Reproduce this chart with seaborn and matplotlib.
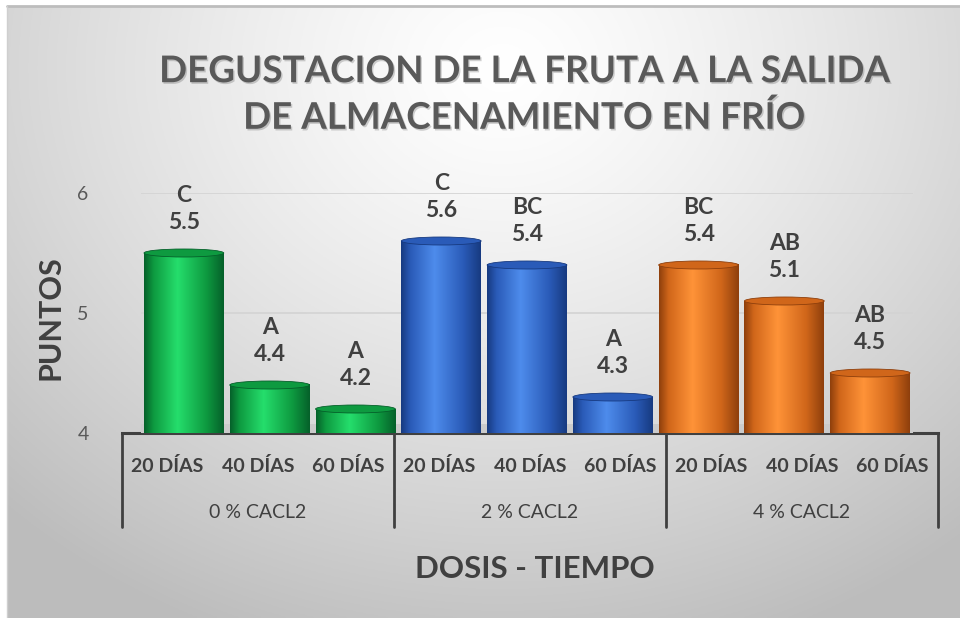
import numpy as np
import pandas as pd
import matplotlib
matplotlib.use("Agg")
import matplotlib.pyplot as plt
import seaborn as sns
from matplotlib.patches import Ellipse
from matplotlib.colors import LinearSegmentedColormap, to_hex
from matplotlib.transforms import blended_transform_factory
import matplotlib.patheffects as pe

# ---------------- data ----------------
dosis = ["0 % CACL2", "2 % CACL2", "4 % CACL2"]
tiempos = ["20 DÍAS", "40 DÍAS", "60 DÍAS"]
valores = [5.5, 4.4, 4.2, 5.6, 5.4, 4.3, 5.4, 5.1, 4.5]
letras = ["C", "A", "A", "C", "BC", "A", "BC", "AB", "AB"]
colores_dosis = ["#0FA044", "#2D5FBF", "#E0701C"]
y_ticks = [4, 5, 6]
titulo = "DEGUSTACION DE LA FRUTA A LA SALIDA\nDE ALMACENAMIENTO EN FRÍO"
eje_y = "PUNTOS"
eje_x = "DOSIS - TIEMPO"

rows = []
for i, d in enumerate(dosis):
    for j, t in enumerate(tiempos):
        k = i * len(tiempos) + j
        rows.append({"dosis": d, "tiempo": t, "cat": f"{d} | {t}",
                     "valor": valores[k], "letra": letras[k]})
df = pd.DataFrame(rows)

# cylinder shading (dark edge, mid, highlight) per dose colour
shading = {
    "#0FA044": ("#05602A", "#0E9A40", "#25DE6C"),
    "#2D5FBF": ("#173A80", "#2A5BB8", "#4E8CEC"),
    "#E0701C": ("#8E3F0C", "#D0661A", "#FF9338"),
}

FONT = "Lato"
TXT = "#404040"

sns.set_theme(style="white")
plt.rcParams["font.family"] = [FONT, "DejaVu Sans"]

W, H = 960, 618
fig = plt.figure(figsize=(W / 100, H / 100), dpi=100)
fig.patch.set_facecolor("white")

# ---------- background (radial light-gray gradient) ----------
bg_ax = fig.add_axes([7 / W, 0, 1 - 7 / W, 1 - 6 / H], zorder=-5)
yy, xx = np.mgrid[0:1:300j, 0:1:480j]
r = np.sqrt(((xx - 0.52) / 0.75) ** 2 + ((yy - 0.10) / 1.0) ** 2)
g = 1.0 - 0.26 * np.clip(r, 0, 1.0) ** 1.3
bg = np.dstack([g, g, g])
bg_ax.imshow(bg, extent=[0, 1, 0, 1], aspect="auto", origin="upper")
bg_ax.set_axis_off()
bg_ax.plot([0, 1], [1, 1], color="#BDBDBD", lw=2, transform=bg_ax.transAxes, clip_on=False)
bg_ax.plot([0, 0], [0, 1], color="#CFCFCF", lw=1, transform=bg_ax.transAxes, clip_on=False)

# ---------- axes: front (category axis) and back plane (bars) ----------
left, right = 122 / W, 938 / W
bottom, top = 1 - 433 / H, 1 - 193 / H
ax = fig.add_axes([left, bottom, right - left, top - bottom], zorder=1)
ax.set_facecolor("none")

b_left, b_right = 141 / W, 913 / W
axb = fig.add_axes([b_left, bottom, b_right - b_left, top - bottom], zorder=2)
axb.set_facecolor("none")

sns.barplot(data=df, x="cat", y="valor", hue="dosis", palette=colores_dosis,
            saturation=1, dodge=False, width=0.93, legend=False, ax=axb,
            errorbar=None, order=list(df["cat"]))

patches = sorted(axb.patches, key=lambda p: p.get_x())

axb.set_ylim(y_ticks[0], y_ticks[-1])
axb.set_xlim(-0.5, len(df) - 0.5)

px_per_unit = (top - bottom) * H / (y_ticks[-1] - y_ticks[0])
ell_h = 8 / px_per_unit

# grid lines and floor on the back plane
for yv in y_ticks[1:]:
    axb.axhline(yv, color="#D3D3D3", lw=1.2, zorder=0)
axb.axhspan(y_ticks[0], y_ticks[0] + 9 / px_per_unit, color="#CBCBCB", zorder=0.5, lw=0)

for p in patches:
    base = to_hex(p.get_facecolor()[:3]).upper()
    dark, mid, light = shading.get(base, (base, base, base))
    x0, w, v = p.get_x(), p.get_width(), p.get_height()
    p.set_alpha(0)
    cmap = LinearSegmentedColormap.from_list(
        "cyl", [(0, dark), (0.12, mid), (0.42, light), (0.78, mid), (1.0, dark)])
    grad = np.linspace(0, 1, 256)[None, :]
    axb.imshow(grad, cmap=cmap, extent=(x0, x0 + w, y_ticks[0], v),
               aspect="auto", zorder=3, interpolation="bilinear")
    ell = Ellipse((x0 + w / 2, v), w, ell_h, facecolor=mid, edgecolor=dark,
                  lw=0.6, zorder=4)
    axb.add_patch(ell)

# data labels
for p, (_, row) in zip(patches, df.iterrows()):
    xc = p.get_x() + p.get_width() / 2
    axb.annotate(f"{row['letra']}\n{row['valor']:.1f}", xy=(xc, row["valor"]),
                 xytext=(0, 20), textcoords="offset pixels", ha="center",
                 va="bottom", fontsize=16.5, fontweight="bold", color=TXT,
                 linespacing=1.35, zorder=5, annotation_clip=False)

axb.set_ylim(y_ticks[0], y_ticks[-1])
axb.set_xlim(-0.5, len(df) - 0.5)
axb.set_axis_off()

# front axis styling
ax.set_ylim(y_ticks[0], y_ticks[-1])
ax.set_xlim(-0.5, len(df) - 0.5)
ax.set_yticks(y_ticks)
ax.set_yticklabels([str(t) for t in y_ticks], fontsize=14, color="#595959")
ax.tick_params(axis="y", length=0, pad=24)
ax.tick_params(axis="x", length=0, pad=17)
ax.set_xticks(range(len(df)))
ax.set_xticklabels(list(df["tiempo"]), fontsize=14, fontweight="bold", color=TXT)
for s in ["top", "right", "left"]:
    ax.spines[s].set_visible(False)
ax.spines["bottom"].set_color(TXT)
ax.spines["bottom"].set_linewidth(2.2)
ax.set_xlabel("")
ax.set_ylabel("")

# multi-level category axis
bt = blended_transform_factory(ax.transData, ax.transAxes)
n = len(tiempos)
for i in range(len(dosis) + 1):
    xs = i * n - 0.5
    ax.plot([xs, xs], [0, -0.39], transform=bt, clip_on=False, color=TXT, lw=2)
for i, d in enumerate(dosis):
    ax.text(i * n + (n - 1) / 2, -0.33, d, transform=bt, ha="center", va="center",
            fontsize=14, color=TXT)

# titles
fig.text(524 / W, 1 - 95 / H, titulo, ha="center", va="center", fontsize=26.5,
         fontweight="bold", color="#595959", linespacing=1.45,
         path_effects=[pe.withSimplePatchShadow(offset=(1, -1.2), alpha=0.2)])
fig.text(51 / W, 1 - 318 / H, eje_y, rotation=90, ha="center", va="center",
         fontsize=22, fontweight="bold", color=TXT)
fig.text(535 / W, 1 - 569 / H, eje_x, ha="center", va="center",
         fontsize=22.5, fontweight="bold", color=TXT)

fig.savefig("out.png", dpi=100)
